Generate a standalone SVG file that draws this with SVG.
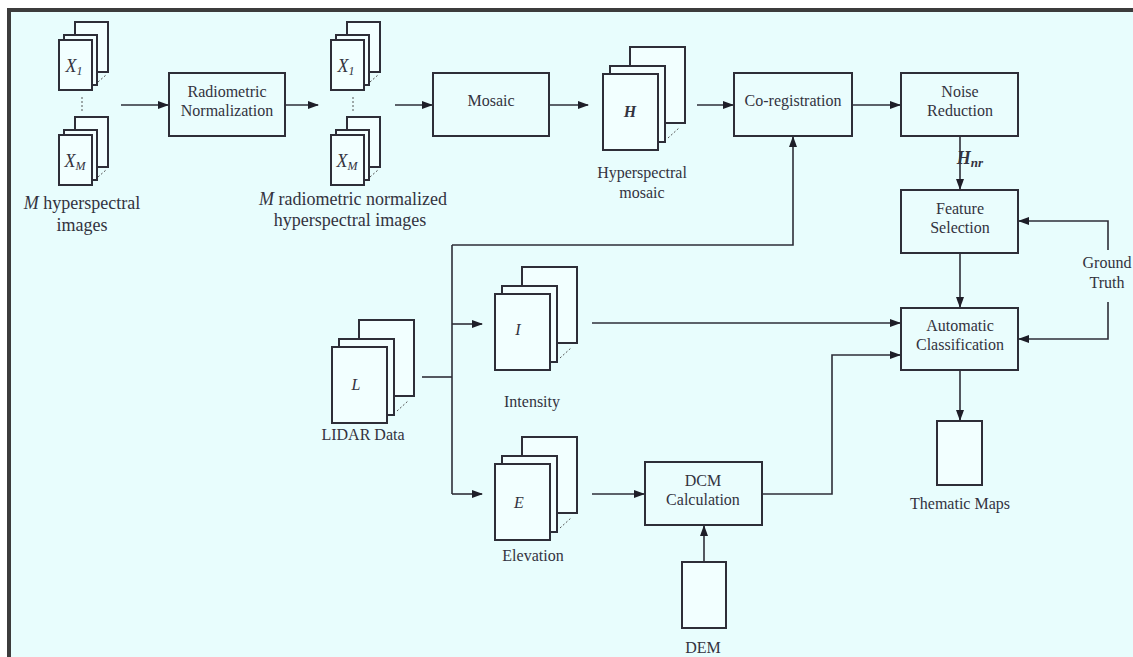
<svg xmlns="http://www.w3.org/2000/svg" xmlns:xlink="http://www.w3.org/1999/xlink" width="1133" height="657" viewBox="0 0 1133 657">
<style>
  .box { fill: #eafdfd; stroke: #2e2e38; stroke-width: 2; }
  .sheet { fill: #f2ffff; stroke: #2e2e38; stroke-width: 2; }
  .dash { stroke: #555; stroke-width: 1; stroke-dasharray: 2 2; fill: none; }
  .con { fill: none; stroke: #2e2e38; stroke-width: 1.6; }
  .t { font-family: "Liberation Serif", "Times New Roman", serif; font-size: 16px; fill: #333340; text-anchor: middle; }
  .big { font-size: 18px; }
  .ti { font-style: italic; }
  .tb { font-weight: bold; font-style: italic; }
</style>
<defs>
  <marker id="arr" markerWidth="11" markerHeight="9" refX="10" refY="4" orient="auto" markerUnits="userSpaceOnUse">
    <path d="M0,0 L11,4 L0,8 Z" fill="#1e1e28"/>
  </marker>
  <g id="stackS">
    <rect class="sheet" x="16" y="-18" width="33" height="50"/>
    <rect class="sheet" x="5" y="-5" width="33" height="50"/>
    <rect class="sheet" x="0" y="0" width="33" height="50"/>
    <line class="dash" x1="39" y1="42" x2="47" y2="35"/>
  </g>
  <g id="stackL">
    <rect class="sheet" x="27" y="-27" width="55" height="76"/>
    <rect class="sheet" x="7" y="-8" width="55" height="76"/>
    <rect class="sheet" x="0" y="0" width="55" height="76"/>
    <line class="dash" x1="65" y1="64" x2="76" y2="54"/>
  </g>
</defs>

<rect x="0" y="0" width="1133" height="657" fill="#ffffff"/>
<rect x="7" y="8" width="1126" height="649" fill="#3c3c3c"/>
<rect x="11" y="12" width="1122" height="645" fill="#e8fdfd"/>

<g id="connectors">
  <line class="con" x1="121" y1="105" x2="168" y2="105" marker-end="url(#arr)"/>
  <line class="con" x1="285" y1="105" x2="318" y2="105" marker-end="url(#arr)"/>
  <line class="con" x1="395" y1="105" x2="432" y2="105" marker-end="url(#arr)"/>
  <line class="con" x1="549" y1="105" x2="588" y2="105" marker-end="url(#arr)"/>
  <line class="con" x1="697" y1="105" x2="733" y2="105" marker-end="url(#arr)"/>
  <line class="con" x1="852" y1="105" x2="900" y2="105" marker-end="url(#arr)"/>
  <line class="con" x1="960" y1="136" x2="960" y2="189" marker-end="url(#arr)"/>
  <line class="con" x1="960" y1="253" x2="960" y2="307" marker-end="url(#arr)"/>
  <polyline class="con" points="1108,250 1108,221 1019,221" marker-end="url(#arr)"/>
  <polyline class="con" points="1108,302 1108,339 1019,339" marker-end="url(#arr)"/>
  <line class="con" x1="960" y1="370" x2="960" y2="420" marker-end="url(#arr)"/>
  <line class="con" x1="422" y1="377" x2="452" y2="377"/>
  <line class="con" x1="452" y1="245" x2="452" y2="494"/>
  <polyline class="con" points="452,245 793,245 793,137" marker-end="url(#arr)"/>
  <line class="con" x1="452" y1="324" x2="482" y2="324" marker-end="url(#arr)"/>
  <line class="con" x1="452" y1="494" x2="482" y2="494" marker-end="url(#arr)"/>
  <line class="con" x1="592" y1="323" x2="900" y2="323" marker-end="url(#arr)"/>
  <line class="con" x1="592" y1="494" x2="644" y2="494" marker-end="url(#arr)"/>
  <polyline class="con" points="762,494 832,494 832,355 900,355" marker-end="url(#arr)"/>
  <line class="con" x1="704" y1="562" x2="704" y2="526" marker-end="url(#arr)"/>
</g>

<g id="hs-images">
  <use xlink:href="#stackS" x="59" y="40"/>
  <text class="t ti big" x="74" y="72">X<tspan font-size="12" dy="3">1</tspan></text>
  <line class="dash" x1="82" y1="97" x2="82" y2="113"/>
  <use xlink:href="#stackS" x="59" y="135"/>
  <text class="t ti big" x="75" y="167">X<tspan font-size="12" dy="3">M</tspan></text>
  <text class="t big" x="82" y="209"><tspan font-style="italic">M</tspan> hyperspectral</text>
  <text class="t big" x="82" y="231">images</text>
</g>

<g id="radiometric">
  <rect class="box" x="169" y="73" width="116" height="63"/>
  <text class="t" x="227" y="97">Radiometric</text>
  <text class="t" x="227" y="116">Normalization</text>
</g>

<g id="norm-images">
  <use xlink:href="#stackS" x="331" y="40"/>
  <text class="t ti big" x="346" y="72">X<tspan font-size="12" dy="3">1</tspan></text>
  <line class="dash" x1="353" y1="97" x2="353" y2="113"/>
  <use xlink:href="#stackS" x="331" y="135"/>
  <text class="t ti big" x="347" y="167">X<tspan font-size="12" dy="3">M</tspan></text>
  <text class="t big" x="353" y="205"><tspan font-style="italic">M</tspan> radiometric normalized</text>
  <text class="t big" x="350" y="226">hyperspectral images</text>
</g>

<g id="mosaic">
  <rect class="box" x="433" y="73" width="116" height="63"/>
  <text class="t" x="491" y="106">Mosaic</text>
</g>

<g id="hs-mosaic">
  <use xlink:href="#stackL" x="603" y="74"/>
  <text class="t tb" x="630" y="117">H</text>
  <text class="t" x="642" y="178">Hyperspectral</text>
  <text class="t" x="642" y="198">mosaic</text>
</g>

<g id="coreg">
  <rect class="box" x="734" y="73" width="118" height="63"/>
  <text class="t" x="793" y="106">Co-registration</text>
</g>

<g id="noise">
  <rect class="box" x="901" y="73" width="117" height="63"/>
  <text class="t" x="960" y="97">Noise</text>
  <text class="t" x="960" y="116">Reduction</text>
  <text class="t tb big" x="970" y="164" text-anchor="start">H<tspan font-size="13" dy="3">nr</tspan></text>
</g>

<g id="feature">
  <rect class="box" x="901" y="190" width="117" height="63"/>
  <text class="t" x="960" y="214">Feature</text>
  <text class="t" x="960" y="233">Selection</text>
</g>

<g id="ground-truth">
  <text class="t" x="1107" y="268">Ground</text>
  <text class="t" x="1107" y="288">Truth</text>
</g>

<g id="classification">
  <rect class="box" x="901" y="308" width="117" height="62"/>
  <text class="t" x="960" y="331">Automatic</text>
  <text class="t" x="960" y="350">Classification</text>
</g>

<g id="thematic">
  <rect class="sheet" x="937" y="421" width="45" height="64"/>
  <text class="t" x="960" y="509">Thematic Maps</text>
</g>

<g id="lidar">
  <use xlink:href="#stackL" x="332" y="347"/>
  <text class="t ti" x="356" y="390" font-size="17">L</text>
  <text class="t" x="363" y="440" font-size="15">LIDAR Data</text>
</g>

<g id="intensity">
  <use xlink:href="#stackL" x="495" y="294"/>
  <text class="t ti" x="518" y="335" font-size="17">I</text>
  <text class="t" x="532" y="407">Intensity</text>
</g>

<g id="elevation">
  <use xlink:href="#stackL" x="495" y="464"/>
  <text class="t ti" x="519" y="508" font-size="17">E</text>
  <text class="t" x="533" y="561">Elevation</text>
</g>

<g id="dcm">
  <rect class="box" x="645" y="462" width="117" height="63"/>
  <text class="t" x="703" y="486">DCM</text>
  <text class="t" x="703" y="505">Calculation</text>
</g>

<g id="dem">
  <rect class="sheet" x="682" y="562" width="44" height="66"/>
  <text class="t" x="703" y="653">DEM</text>
</g>
</svg>
